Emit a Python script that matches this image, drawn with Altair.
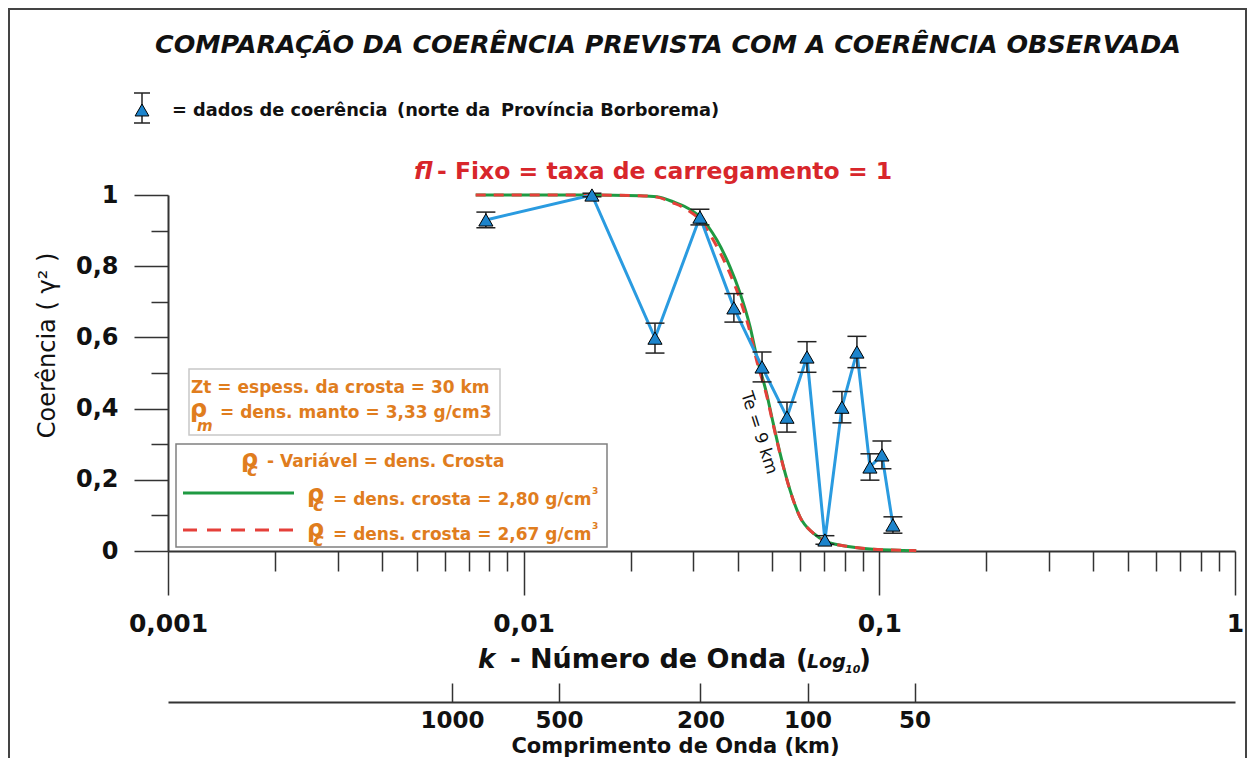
import math
import pandas as pd
import altair as alt

# ---------------- data ----------------
k_obs = [0.00783, 0.01556, 0.0234, 0.0313, 0.0390, 0.0468, 0.0550,
         0.0626, 0.0703, 0.0785, 0.0865, 0.0941, 0.1017, 0.1092]
coh_obs = [0.930, 1.000, 0.598, 0.938, 0.683, 0.517, 0.376,
           0.545, 0.031, 0.404, 0.559, 0.236, 0.270, 0.073]
err_obs = [0.022, 0.005, 0.042, 0.022, 0.040, 0.042, 0.042,
           0.043, 0.012, 0.044, 0.044, 0.037, 0.039, 0.023]

k_model = [0.00733, 0.0150, 0.0212, 0.0237, 0.0263, 0.0287, 0.0313, 0.0349,
           0.0380, 0.0406, 0.0433, 0.0452, 0.0482, 0.0503, 0.0526, 0.0561,
           0.0598, 0.0652, 0.0711, 0.0827, 0.0961, 0.127]
coh_280 = [1.000, 1.000, 0.998, 0.995, 0.981, 0.965, 0.939, 0.874,
           0.799, 0.724, 0.630, 0.546, 0.443, 0.359, 0.274, 0.171,
           0.096, 0.050, 0.026, 0.012, 0.005, 0.001]
coh_267 = [1.000, 1.000, 0.998, 0.994, 0.978, 0.960, 0.930, 0.856,
           0.780, 0.706, 0.615, 0.535, 0.437, 0.355, 0.272, 0.170,
           0.096, 0.050, 0.026, 0.012, 0.005, 0.001]

k_major = [0.001, 0.01, 0.1, 1]
k_minor = [m * 10.0 ** e for e in (-3, -2, -1) for m in range(2, 10)]
y_major = [0, 0.2, 0.4, 0.6, 0.8, 1.0]
y_minor = [0.1, 0.3, 0.5, 0.7, 0.9]
wavelength_km = [1000, 500, 200, 100, 50]

# ---------------- layout ----------------
W, H = 1067, 356
PL, PT = 160, 187          # plot origin = page (168, 195)
OX, OY = 168, 195
FONT = "DejaVu Sans"
ORANGE = "#e07d1e"
RED = "#d8262b"
GREEN = "#1f9a42"
BLUE_LINE = "#2a9be0"
BLUE_FILL = "#1c84cc"
INK = "#111111"

XS = alt.Scale(type="log", domain=[0.001, 1], nice=False)
YS = alt.Scale(domain=[0, 1], nice=False, zero=False)

obs = pd.DataFrame({"k": k_obs, "coh": coh_obs, "err": err_obs})
obs["lo"] = obs["coh"] - obs["err"]
obs["hi"] = obs["coh"] + obs["err"]
m280 = pd.DataFrame({"k": k_model, "coh": coh_280})
m267 = pd.DataFrame({"k": k_model, "coh": coh_267})
wl = pd.DataFrame({"lam": wavelength_km})
wl["k"] = 2 * math.pi / wl["lam"]
k_wl = list(wl["k"])
one = pd.DataFrame({"a": [0]})

ax_x_major = alt.Axis(values=k_major, orient="bottom", tickSize=44, tickWidth=1.5,
                      domainWidth=2, labelExpr="replace(format(datum.value, '~g'), '.', ',')",
                      labelFontSize=25, labelPadding=16, labelFlush=False, labelOverlap=False,
                      title=None, grid=False)
ax_x_minor = alt.Axis(values=k_minor, orient="bottom", tickSize=20, tickWidth=1.5,
                      labels=False, domain=False, title=None, grid=False)
ax_y_major = alt.Axis(values=y_major, orient="left", tickSize=34, tickWidth=1.5,
                      domainWidth=2, labelExpr="replace(format(datum.value, '.1~f'), '.', ',')",
                      labelFontSize=24, labelPadding=16, labelFlush=False, labelOverlap=False,
                      title="Coerência ( γ² )", titleFont=FONT, titleFontWeight="normal",
                      titleFontSize=24, titleX=-121, titleY=150, titleAngle=270,
                      titleAlign="center", titleBaseline="middle", titleColor=INK, grid=False)
ax_y_minor = alt.Axis(values=y_minor, orient="left", tickSize=17, tickWidth=1.5,
                      labels=False, domain=False, title=None, grid=False)
ax_wl_ticks = alt.Axis(values=k_wl, orient="bottom", offset=132, tickSize=19, tickWidth=1.5,
                       domain=False, labelExpr="format(2*PI/datum.value, '.0f')",
                       labelFontSize=23, labelPadding=7, labelFlush=False, labelOverlap=False,
                       title="Comprimento de Onda (km)", titleFont=FONT, titleFontSize=21,
                       titleFontWeight="bold", titleX=507, titleY=52, titleAlign="center",
                       titleBaseline="top", titleColor=INK, grid=False)
ax_wl_line = alt.Axis(orient="bottom", offset=151, ticks=False, labels=False, domain=True,
                      domainWidth=2, title=None, grid=False)


def txt(s, x, y, size, color=INK, weight="bold", style="normal", align="left",
        baseline="alphabetic", angle=0):
    return alt.Chart(pd.DataFrame({"t": [s]})).mark_text(
        align=align, baseline=baseline, fontSize=size, fontWeight=weight,
        fontStyle=style, color=color, font=FONT, angle=angle
    ).encode(x=alt.value(x - OX), y=alt.value(y - OY), text="t:N")


def box(x1, y1, x2, y2, stroke, width=1.5):
    return alt.Chart(one).mark_rect(fill="white", fillOpacity=0, stroke=stroke,
                                    strokeWidth=width).encode(
        x=alt.value(x1 - OX), x2=alt.value(x2 - OX),
        y=alt.value(y1 - OY), y2=alt.value(y2 - OY))


def hline(x1, x2, y, color, dash=None, width=3):
    kw = dict(color=color, strokeWidth=width)
    if dash:
        kw["strokeDash"] = dash
    return alt.Chart(one).mark_rule(**kw).encode(
        x=alt.value(x1 - OX), x2=alt.value(x2 - OX), y=alt.value(y - OY))


frame = box(OX - 159, OY - 186, OX + 1078, 1000, "#444444", 2)

# curves with axes
green = alt.Chart(m280).mark_line(color=GREEN, strokeWidth=3, interpolate="monotone").encode(
    x=alt.X("k:Q", scale=XS, axis=ax_x_major), y=alt.Y("coh:Q", scale=YS, axis=ax_y_major))
red = alt.Chart(m267).mark_line(color="#e5403a", strokeWidth=3, strokeDash=[10, 8],
                                interpolate="monotone").encode(
    x=alt.X("k:Q", scale=XS, axis=ax_x_minor), y=alt.Y("coh:Q", scale=YS, axis=ax_y_minor))
wl_ticks = alt.Chart(wl).mark_point(opacity=0).encode(
    x=alt.X("k:Q", scale=XS, axis=ax_wl_ticks), y=alt.value(0))
wl_line = alt.Chart(wl).mark_point(opacity=0).encode(
    x=alt.X("k:Q", scale=XS, axis=ax_wl_line), y=alt.value(0))

bx = alt.X("k:Q", scale=XS, axis=None)
obs_line = alt.Chart(obs).mark_line(color=BLUE_LINE, strokeWidth=3).encode(
    x=bx, y=alt.Y("coh:Q", scale=YS, axis=None))
obs_err = alt.Chart(obs).mark_rule(color="#222222", strokeWidth=1.5).encode(
    x=bx, y=alt.Y("lo:Q", scale=YS, axis=None), y2="hi:Q")
cap_lo = alt.Chart(obs).mark_tick(orient="horizontal", size=19, thickness=1.5,
                                   color="#222222", opacity=1).encode(
    x=bx, y=alt.Y("lo:Q", scale=YS, axis=None))
cap_hi = alt.Chart(obs).mark_tick(orient="horizontal", size=19, thickness=1.5,
                                   color="#222222", opacity=1).encode(
    x=bx, y=alt.Y("hi:Q", scale=YS, axis=None))
obs_pts = alt.Chart(obs).mark_point(shape="triangle-up", filled=True, fill=BLUE_FILL,
                                    stroke="#000000", strokeWidth=1, size=200, opacity=1).encode(
    x=bx, y=alt.Y("coh:Q", scale=YS, axis=None))

# legend glyph for data
leg_err = alt.Chart(one).mark_rule(color="#222222", strokeWidth=1.5).encode(
    x=alt.value(142 - OX), y=alt.value(93 - OY), y2=alt.value(123 - OY))
leg_cap1 = hline(134, 150, 93, "#222222", width=1.5)
leg_cap2 = hline(134, 150, 123, "#222222", width=1.5)
leg_pt = alt.Chart(one).mark_point(shape="triangle-up", filled=True, fill=BLUE_FILL,
                                   stroke="#000000", strokeWidth=1, size=190, opacity=1).encode(
    x=alt.value(142 - OX), y=alt.value(110 - OY))

texts = [
    txt("COMPARAÇÃO DA COERÊNCIA PREVISTA COM A COERÊNCIA OBSERVADA", 668, 53, 25.4,
        style="italic", align="center"),
    txt("= dados de coerência", 172, 116, 17.8),
    txt("(norte da", 397, 116, 17.8),
    txt("Província Borborema)", 501, 116, 17.8),
    txt("fl", 414, 179, 23.5, color=RED, style="italic"),
    txt("- Fixo = taxa de carregamento = 1", 437, 179, 23.5, color=RED),
    # box 1
    txt("Zt = espess. da crosta = 30 km", 191, 393, 17, color=ORANGE),
    txt("ρ", 190, 417, 24, color=ORANGE),
    txt("m", 197, 431, 15, color=ORANGE, style="italic"),
    txt("= dens. manto = 3,33 g/cm3", 220, 418, 17, color=ORANGE),
    # box 2
    txt("ρ", 241, 467, 24, color=ORANGE),
    txt("c", 247, 476, 18, color=ORANGE, style="italic"),
    txt("- Variável = dens. Crosta", 267, 467, 17, color=ORANGE),
    txt("ρ", 307, 502, 24, color=ORANGE),
    txt("c", 313, 511, 18, color=ORANGE, style="italic"),
    txt("= dens. crosta = 2,80 g/cm", 333, 505, 17, color=ORANGE),
    txt("3", 592, 494, 9, color=ORANGE),
    txt("ρ", 307, 537, 24, color=ORANGE),
    txt("c", 313, 546, 18, color=ORANGE, style="italic"),
    txt("= dens. crosta = 2,67 g/cm", 333, 540, 17, color=ORANGE),
    txt("3", 592, 529, 9, color=ORANGE),
    # curve label
    txt("Te = 9 km", 759, 433, 17, weight="normal", align="center", baseline="middle", angle=72),
    # x title pieces
    txt("k", 478, 668, 26, style="italic"),
    txt("-", 510, 668, 26),
    txt("Número de Onda", 530, 668, 27),
    txt("(", 796, 668, 26),
    txt("Log", 807, 668, 19, style="italic"),
    txt("10", 845, 673, 11, style="italic"),
    txt(")", 859, 668, 26),
]

layers = [frame,
          box(189, 369, 500, 435, "#c8c8c8"),
          box(176, 444, 607, 547, "#808080"),
          hline(183, 294, 493, GREEN),
          hline(183, 295, 530, "#e5403a", dash=[14, 10]),
          green, red, wl_ticks, wl_line,
          obs_line, obs_err, cap_lo, cap_hi, obs_pts,
          leg_err, leg_cap1, leg_cap2, leg_pt] + texts

chart = alt.layer(*layers).resolve_axis(x="independent", y="independent").properties(
    width=W, height=H,
    autosize=alt.AutoSizeParams(type="none"),
    padding={"left": PL, "top": PT, "right": 12, "bottom": 207},
    background="white",
).configure_view(stroke=None).configure_axis(
    labelFont=FONT, labelFontWeight="bold", labelColor=INK,
    domainColor="#333333", tickColor="#333333", titleFont=FONT,
)

chart.save("out.html", embed_options={"renderer": "svg", "actions": False})
